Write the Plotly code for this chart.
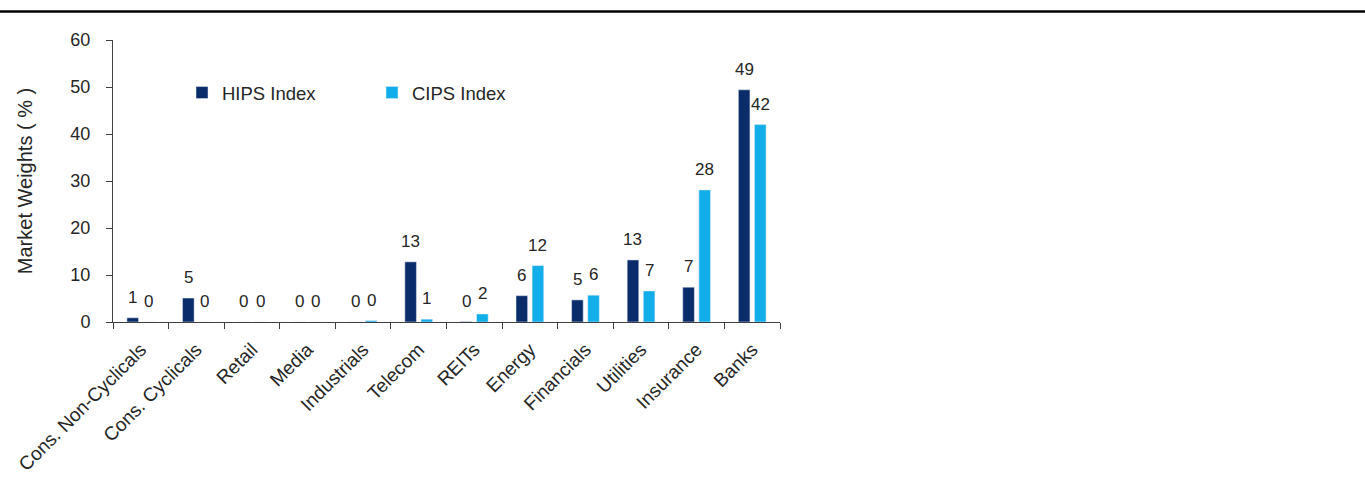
import plotly.graph_objects as go

categories = ["Cons. Non-Cyclicals", "Cons. Cyclicals", "Retail", "Media", "Industrials",
              "Telecom", "REITs", "Energy", "Financials", "Utilities", "Insurance", "Banks"]
hips = [0.9, 5.1, 0.0, 0.0, 0.0, 12.8, 0.1, 5.6, 4.7, 13.2, 7.4, 49.4]
cips = [0.0, 0.0, 0.0, 0.0, 0.3, 0.6, 1.7, 12.0, 5.7, 6.6, 28.1, 42.0]

W, H = 1365, 487
L, R, T, B = 113, 585, 40, 165
pw = W - L - R
ph = H - T - B
BARGAP = 0.42
catw = pw / len(categories)
off = (1 - BARGAP) * catw / 4

font = "Liberation Sans, Arial, sans-serif"
txtcol = "#262626"
axcol = "#404040"

fig = go.Figure()
fig.add_trace(go.Bar(x=categories, y=hips, name="HIPS Index", marker_color="#0B2C6B"))
fig.add_trace(go.Bar(x=categories, y=cips, name="CIPS Index", marker_color="#12AEEA"))

annotations = []
for series, sign in ((hips, -1), (cips, 1)):
    for c, v in zip(categories, series):
        annotations.append(dict(x=c, y=v, xref="x", yref="y", text=f"{v:.0f}", showarrow=False,
                                xanchor="center", yanchor="bottom", xshift=sign * off, yshift=9,
                                font=dict(size=17, color=txtcol, family=font)))

fig.update_layout(
    width=W, height=H,
    margin=dict(l=L, r=R, t=T, b=B, pad=0),
    paper_bgcolor="white", plot_bgcolor="white",
    barmode="group", bargap=BARGAP, bargroupgap=0.28,
    font=dict(family=font, size=17, color=txtcol),
    showlegend=True,
    legend=dict(orientation="h", x=(182 - L) / pw, y=1 - (93 - T) / ph, xanchor="left", yanchor="middle",
                font=dict(size=18.5, color=txtcol), bgcolor="rgba(0,0,0,0)",
                itemwidth=30, entrywidth=145, entrywidthmode="pixels", traceorder="normal"),
    xaxis=dict(type="category", tickangle=-45, showline=True, linecolor=axcol, linewidth=1,
               ticks="outside", tickson="boundaries", ticklen=6, tickcolor=axcol,
               ticklabelstandoff=8,
               tickfont=dict(size=19, color=txtcol), showgrid=False, zeroline=False),
    yaxis=dict(range=[0, 60], dtick=10, showline=True, linecolor=axcol, linewidth=1,
               ticks="outside", ticklen=6, tickcolor=axcol, showgrid=False, zeroline=False,
               ticklabelstandoff=12,
               tickfont=dict(size=18, color=txtcol),
               title=dict(text="Market Weights ( % )", font=dict(size=20, color=txtcol), standoff=32)),
    annotations=annotations,
    shapes=[dict(type="line", xref="paper", yref="paper",
                 x0=-L / pw, x1=(W - L) / pw, y0=1 + (T - 11.5) / ph, y1=1 + (T - 11.5) / ph,
                 line=dict(color="black", width=2.5))],
)

fig.write_html("out.html")
